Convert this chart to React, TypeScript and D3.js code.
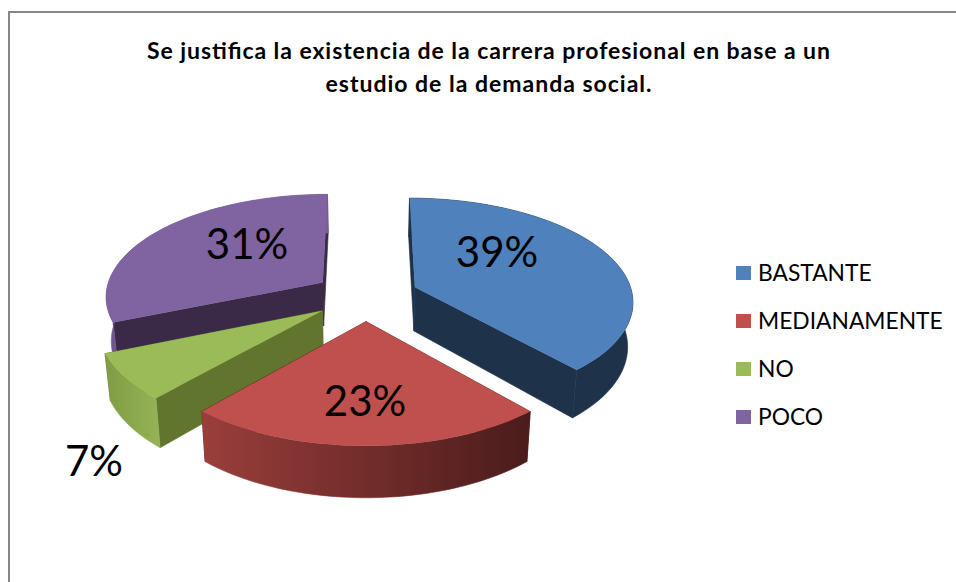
// App.tsx
import React from 'react';
import * as d3 from 'd3';

const categories = ['BASTANTE', 'MEDIANAMENTE', 'NO', 'POCO'];
const values = [38.5, 23, 7.2, 31.3];
const titleLines = [
  'Se justifica la existencia de la carrera profesional en base a un',
  'estudio de la demanda social.',
];
const titleWidths = [683, 326];

const topColors = ['#4f81bd', '#c0504d', '#9bbb59', '#8064a2'];
const radialColors = ['#1e3249', '#4f1f1e', '#62752f', '#3a2a48'];
const outerStart = ['#1e3249', '#9a3e3b', '#7f9c45', '#6f578d'];
const outerEnd = ['#1e3249', '#4a1c1b', '#94b254', '#7a5f9b'];
const labelPos = [[497, 252], [365, 401], [94, 461], [247, 244]];
const legendY = [273, 321, 369, 417];
const drawOrder = [3, 0, 2, 1];

const width = 956;
const height = 582;
const cx = 366;
const cy = 296;
const radiusX = 218;
const radiusY = 102.2;
const persp = 0.123;
const explode = 0.242;
const depth = 44;
const font = 'Lato, "Open Sans", sans-serif';

// ground plane -> screen, v grows towards the viewer
const project = (u: number, v: number, lower = false): [number, number] => {
  const w = 1 - persp * v;
  const x = cx + (radiusX * u) / w;
  const y = cy + (radiusY * v) / w;
  if (!lower) return [x, y];
  return [cx + (x - cx) * 0.98, y + depth / w];
};

const line = d3.line();

const App = () => {
  const slices = d3.pie<number>().sort(null)(values);

  const shapes = slices.map((s, i) => {
    const mid = (s.startAngle + s.endAngle) / 2;
    const ou = explode * Math.sin(mid);
    const ov = -explode * Math.cos(mid);
    const steps = d3.range(0, 61).map(
      (k) => s.startAngle + ((s.endAngle - s.startAngle) * k) / 60
    );
    const rim = (lower: boolean) =>
      steps.map((a) => project(ou + Math.sin(a), ov - Math.cos(a), lower));
    const apex = (lower: boolean) => project(ou, ov, lower);
    const top = rim(false);
    const bottom = rim(true);
    return {
      i,
      top: line([apex(false), ...top]) + 'Z',
      outer: line([...top, ...[...bottom].reverse()]) + 'Z',
      wallA: line([apex(false), top[0], bottom[0], apex(true)]) + 'Z',
      wallB: line([apex(false), top[60], bottom[60], apex(true)]) + 'Z',
      x0: d3.min(top, (p) => p[0]),
      x1: d3.max(top, (p) => p[0]),
    };
  });

  return (
    <svg
      width={width}
      height={height}
      style={{ position: 'fixed', left: 0, top: 0, background: '#fff' }}
    >
      <defs>
        {shapes.map((d) => (
          <linearGradient
            key={d.i}
            id={`outer${d.i}`}
            gradientUnits="userSpaceOnUse"
            x1={d.x0}
            x2={d.x1}
            y1={0}
            y2={0}
          >
            <stop offset="0" stopColor={outerStart[d.i]} />
            <stop offset="1" stopColor={outerEnd[d.i]} />
          </linearGradient>
        ))}
      </defs>

      <path d="M9,582V12H956" fill="none" stroke="#868686" strokeWidth={2} />

      {titleLines.map((t, i) => (
        <text
          key={t}
          x={488.5}
          y={59 + i * 33}
          textAnchor="middle"
          fontFamily={font}
          fontWeight={700}
          fontSize={23}
          textLength={titleWidths[i]}
          lengthAdjust="spacing"
          fill="#000"
        >
          {t}
        </text>
      ))}

      {drawOrder.map((i) => {
        const d = shapes[i];
        return (
          <g key={i}>
            <path d={d.wallA} fill={radialColors[i]} stroke={radialColors[i]} strokeWidth={0.6} />
            <path d={d.wallB} fill={radialColors[i]} stroke={radialColors[i]} strokeWidth={0.6} />
            <path d={d.outer} fill={`url(#outer${i})`} stroke={`url(#outer${i})`} strokeWidth={0.6} />
            <path d={d.top} fill={topColors[i]} />
          </g>
        );
      })}

      {values.map((v, i) => (
        <text
          key={i}
          x={labelPos[i][0]}
          y={labelPos[i][1] + 15}
          textAnchor="middle"
          fontFamily={font}
          fontSize={42}
          fill="#000"
        >
          {Math.round(v)}%
        </text>
      ))}

      {categories.map((c, i) => (
        <g key={c}>
          <rect x={736} y={legendY[i] - 7} width={15} height={14} fill={topColors[i]} />
          <text x={758} y={legendY[i] + 8} fontFamily={font} fontSize={22.8} fill="#000">
            {c}
          </text>
        </g>
      ))}
    </svg>
  );
};

export default App;
